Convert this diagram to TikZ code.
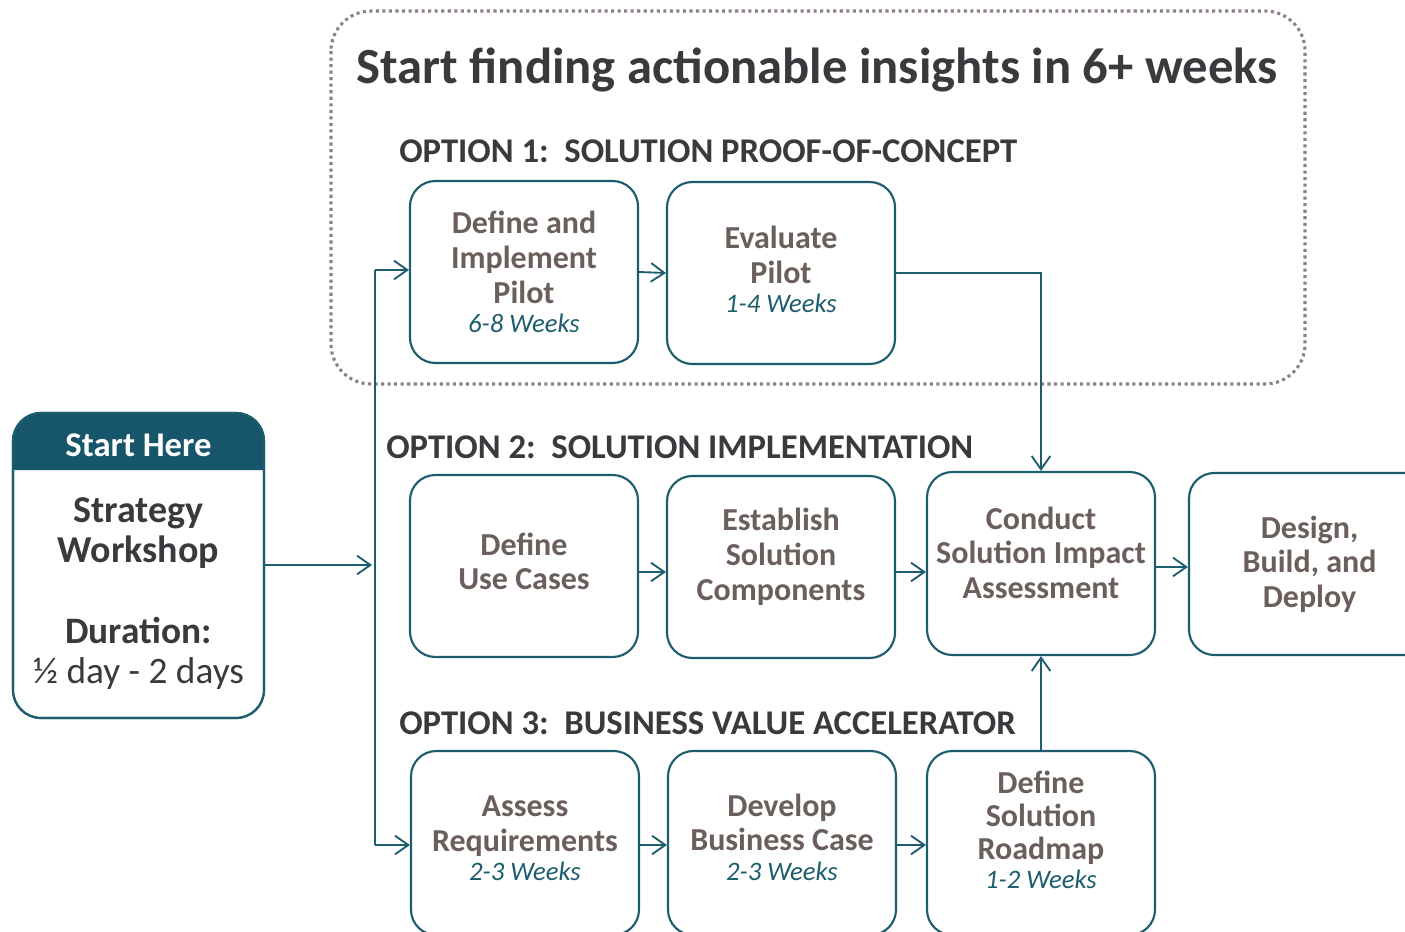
\documentclass[tikz,border=0pt]{standalone}
\usepackage{fontspec}
\setmainfont{Carlito}
\usetikzlibrary{arrows.meta,calc}
\definecolor{teal}{HTML}{1D5D6D}
\definecolor{hdr}{HTML}{17566A}
\definecolor{boxtxt}{HTML}{6B5F5B}
\definecolor{dark}{HTML}{3A3A3E}
\definecolor{dotc}{HTML}{8C817D}
\tikzset{
  stepbox/.style={draw=teal, line width=1.6pt, rounded corners=19pt, fill=white,
    minimum width=228*0.75pt, minimum height=182*0.75pt, inner sep=0pt,
    align=center, text=boxtxt, font=\fontsize{24}{26}\selectfont\bfseries},
  optlabel/.style={anchor=west, inner sep=0pt, text=dark, font=\fontsize{26}{30}\selectfont\bfseries},
  arr/.style={draw=teal, line width=1.4pt, -{Straight Barb[length=10pt,width=14pt,line width=1.4pt]}},
  conn/.style={draw=teal, line width=1.4pt},
}
\newcommand{\wks}[1]{\\[-4pt]{\fontsize{20}{22}\selectfont\mdseries\itshape\color{teal}#1}}
\begin{document}
\begin{tikzpicture}[x=0.75pt,y=-0.75pt]
\clip (0,0) rectangle (1405,931);
\fill[white] (0,0) rectangle (1405,931);
% dotted frame
\draw[dotc, line width=2.3pt, dash pattern=on 2.3pt off 2.6pt, rounded corners=30pt] (331,11) rectangle (1305,384);
\node[text=dark, font=\fontsize{38}{42}\selectfont\bfseries, inner sep=0pt] (title) at (817,70) {Start finding actionable insights in 6+ weeks};
% option labels
\node[optlabel] (o1) at (399,151) {OPTION 1:\ \ SOLUTION PROOF-OF-CONCEPT};
\node[optlabel] (o2) at (386,447) {OPTION 2:\ \ SOLUTION IMPLEMENTATION};
\node[optlabel] (o3) at (399,723) {OPTION 3:\ \ BUSINESS VALUE ACCELERATOR};
% row 1
\node[stepbox] (A1) at (524,272) {Define and\\Implement\\Pilot\wks{6-8 Weeks}};
\node[stepbox] (A2) at (781,273) {Evaluate\\Pilot\wks{1-4 Weeks}\\[-21pt]};
% row 2
\node[stepbox] (B1) at (524,566) {Define\\Use Cases\\[-19pt]};
\node[stepbox] (B2) at (781,567) {Establish\\Solution\\Components\\[-7pt]};
\node[stepbox, minimum height=183*0.75pt] (C) at (1041,563.5) {Conduct\\Solution Impact\\Assessment\\[-9.5pt]};
\node[stepbox, minimum width=241*0.75pt] (D) at (1309.5,564) {Design,\\Build, and\\Deploy};
% row 3
\node[stepbox, minimum height=184*0.75pt] (E1) at (525,843) {Assess\\Requirements\wks{2-3 Weeks}\\[-18.5pt]};
\node[stepbox, minimum height=184*0.75pt] (E2) at (782,843) {Develop\\Business Case\wks{2-3 Weeks}\\[-17pt]};
\node[stepbox, minimum height=184*0.75pt] (E3) at (1041,843) {Define\\[-1.5pt]Solution\\[-1.5pt]Roadmap\wks{1-2 Weeks}\\[-6.5pt]};
% start box
\node[draw=teal, line width=1.6pt, rounded corners=21pt, minimum width=251*0.75pt, minimum height=305*0.75pt, inner sep=0pt] (S) at (138.5,565.5) {};
\fill[hdr] (13,470) [rounded corners=21pt] -- (13,413) -- (264,413) [sharp corners] -- (264,470) -- cycle;
\draw[teal, line width=1.6pt, rounded corners=21pt] (13,413) rectangle (264,718);
\node[text=white, font=\fontsize{26}{28}\selectfont\bfseries, inner sep=0pt] (sh) at (138.5,445) {Start Here};
\node[text=dark, align=center, font=\fontsize{28.5}{30}\selectfont\bfseries, inner sep=0pt] (sw) at (138.5,533) {Strategy\\Workshop};
\node[text=dark, align=center, font=\fontsize{28}{30}\selectfont, inner sep=0pt] (du) at (138.5,653) {\textbf{Duration:}\\½ day - 2 days};
% connectors
\coordinate (vt) at (375,270);
\coordinate (vb) at (375,845);
\coordinate (sj) at (372,565);
\draw[arr] (S.east |- sj) -- (sj);
\draw[conn] (vt) -- (vb);
\draw[arr] (vt) -- (vt -| A1.west);
\draw[arr] (vb) -- (vb -| E1.west);
\draw[arr] (A1.east) -- (A2.west);
\draw[arr] (A2.east) -| (C.north);
\draw[arr] (B1.east |- 0,572) -- (B2.west |- 0,572);
\draw[arr] (B2.east |- 0,572) -- (C.west |- 0,572);
\draw[arr] (C.east |- 0,567) -- (D.west |- 0,567);
\draw[arr] (E1.east |- 0,845) -- (E2.west |- 0,845);
\draw[arr] (E2.east |- 0,845) -- (E3.west |- 0,845);
\draw[arr] (E3.north) -- (C.south);
\end{tikzpicture}
\end{document}
